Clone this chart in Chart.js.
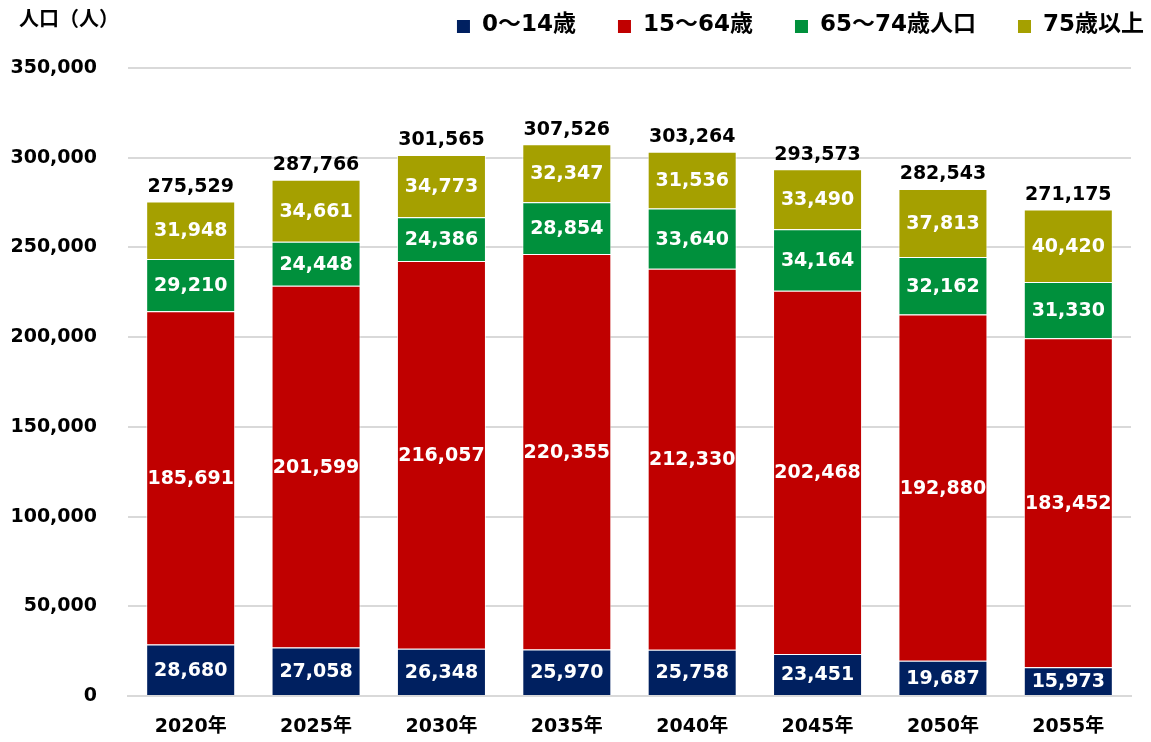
<!DOCTYPE html>
<html>
<head>
<meta charset="utf-8">
<script src="https://cdn.jsdelivr.net/npm/chart.js@4"></script>
<style>
  html, body { margin: 0; padding: 0; background: #fff; }
  #wrap { width: 1151px; height: 742px; position: relative; }
</style>
</head>
<body>
<div id="wrap"><canvas id="popChart" width="1151" height="742"></canvas></div>
<script>
const years = ['2020年', '2025年', '2030年', '2035年', '2040年', '2045年', '2050年', '2055年'];
const age0to14 = [28680, 27058, 26348, 25970, 25758, 23451, 19687, 15973];
const age15to64 = [185691, 201599, 216057, 220355, 212330, 202468, 192880, 183452];
const age65to74 = [29210, 24448, 24386, 28854, 33640, 34164, 32162, 31330];
const age75plus = [31948, 34661, 34773, 32347, 31536, 33490, 37813, 40420];
const totals = [275529, 287766, 301565, 307526, 303264, 293573, 282543, 271175];

const FONT = '"DejaVu Sans", "Noto Sans CJK JP", sans-serif';
const fmt = (v) => v.toLocaleString('en-US');

// segment values, totals, legend and the unit label
const labelPlugin = {
  id: 'labels',
  afterDatasetsDraw(chart) {
    const { ctx } = chart;
    ctx.save();
    ctx.textAlign = 'center';
    ctx.textBaseline = 'middle';
    ctx.font = 'bold 19px ' + FONT;
    ctx.fillStyle = '#fff';
    chart.data.datasets.forEach((ds, i) => {
      chart.getDatasetMeta(i).data.forEach((bar, j) => {
        const y = (bar.y + bar.base) / 2;
        ctx.fillText(fmt(ds.data[j]), bar.x, y + 1);
      });
    });

    ctx.fillStyle = '#000';
    ctx.textBaseline = 'bottom';
    chart.getDatasetMeta(3).data.forEach((bar, j) => {
      ctx.fillText(fmt(totals[j]), bar.x, bar.y - 5);
    });

    ctx.textAlign = 'left';
    ctx.textBaseline = 'middle';
    ctx.font = 'bold 20px "Noto Sans CJK JP", sans-serif';
    ctx.fillText('人口（人）', 19, 18);

    // legend, laid out right to left from the right edge
    ctx.font = 'bold 23px ' + FONT;
    const ds = chart.data.datasets;
    let x = 1144;
    const pos = [];
    for (let i = ds.length - 1; i >= 0; i--) {
      const w = ctx.measureText(ds[i].label).width;
      const textX = x - w;
      const boxX = textX - 12 - 13;
      pos[i] = { textX, boxX };
      x = boxX - 42;
    }
    ds.forEach((d, i) => {
      ctx.fillStyle = d.backgroundColor;
      ctx.fillRect(pos[i].boxX, 20, 13, 13);
      ctx.fillStyle = '#000';
      ctx.fillText(d.label, pos[i].textX, 25);
    });
    ctx.restore();
  },
};

const ctx = document.getElementById('popChart').getContext('2d');
new Chart(ctx, {
  type: 'bar',
  data: {
    labels: years,
    datasets: [
      { label: '0～14歳', data: age0to14, backgroundColor: '#002060' },
      { label: '15～64歳', data: age15to64, backgroundColor: '#C00000' },
      { label: '65～74歳人口', data: age65to74, backgroundColor: '#00903C' },
      { label: '75歳以上', data: age75plus, backgroundColor: '#A5A000' },
    ].map((d) => ({
      ...d,
      borderColor: 'rgba(255,255,255,0.7)',
      borderWidth: 1,
      barPercentage: 0.71,
      categoryPercentage: 1,
    })),
  },
  options: {
    responsive: false,
    animation: false,
    layout: { padding: { left: 10, right: 20, top: 68, bottom: 0 } },
    plugins: {
      legend: { display: false },
      tooltip: { enabled: false },
    },
    scales: {
      x: {
        stacked: true,
        grid: { display: false, drawTicks: false },
        border: { color: '#d9d9d9', width: 2 },
        afterFit: (scale) => { scale.height = 46; },
        ticks: {
          color: '#000',
          padding: 20,
          font: { family: FONT, size: 19, weight: 'bold' },
        },
      },
      y: {
        stacked: true,
        min: 0,
        max: 350000,
        grid: { color: '#d9d9d9', lineWidth: 2, drawTicks: false },
        border: { display: false },
        afterFit: (scale) => { scale.width = 118; },
        ticks: {
          stepSize: 50000,
          color: '#000',
          padding: 31,
          font: { family: FONT, size: 19, weight: 'bold' },
          callback: (v) => fmt(v),
        },
      },
    },
  },
  plugins: [labelPlugin],
});
</script>
</body>
</html>
